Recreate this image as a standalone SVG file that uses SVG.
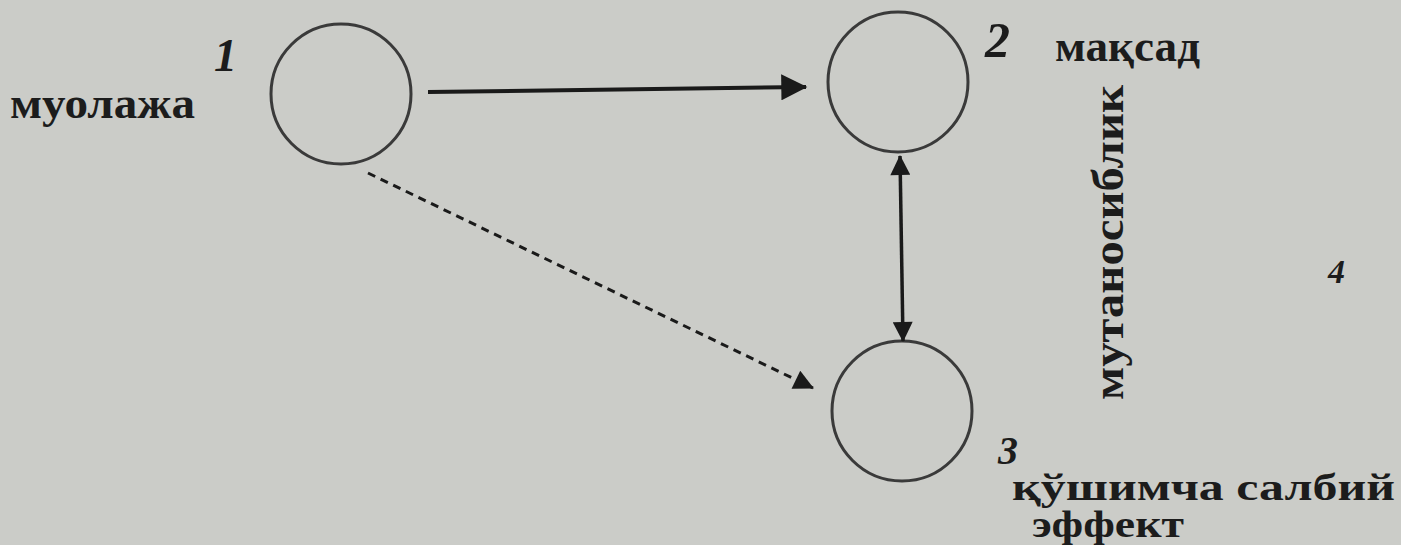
<svg xmlns="http://www.w3.org/2000/svg" width="1401" height="545" viewBox="0 0 1401 545">
<defs>
<marker id="big" viewBox="0 0 10 10" refX="9.5" refY="5" markerWidth="34" markerHeight="26" markerUnits="userSpaceOnUse" orient="auto-start-reverse">
<path d="M0,0 L10,5 L0,10 z" fill="#1a1a1a"/>
</marker>
<marker id="mid" viewBox="0 0 10 10" refX="9.5" refY="5" markerWidth="26" markerHeight="20" markerUnits="userSpaceOnUse" orient="auto-start-reverse">
<path d="M0,0 L10,5 L0,10 z" fill="#1a1a1a"/>
</marker>
</defs>
<style>
.node circle{fill:none;stroke:#3a3a3a;stroke-width:3}
.lbl{font-family:"Liberation Serif",serif;font-weight:bold;font-size:44px;fill:#1c1c1c}
.num{font-family:"Liberation Serif",serif;font-style:italic;font-weight:bold;font-size:48px;fill:#1c1c1c}
.conn line{stroke:#1a1a1a;fill:none}
</style>
<rect width="1401" height="545" fill="#cbccc8"/>
<g id="node1" class="node">
<circle cx="341" cy="94" r="70"/>
<text class="num" x="214" y="71" style="font-size:46px">1</text>
<text class="lbl" x="10" y="118" textLength="185" lengthAdjust="spacingAndGlyphs">муолажа</text>
</g>
<g id="node2" class="node">
<circle cx="898" cy="82" r="70"/>
<text class="num" x="985" y="57" style="font-size:50px">2</text>
<text class="lbl" x="1055" y="61" textLength="145" lengthAdjust="spacingAndGlyphs">мақсад</text>
</g>
<g id="node3" class="node">
<circle cx="902" cy="411" r="70"/>
<text class="num" x="998" y="464" style="font-size:40px">3</text>
<text class="lbl" x="1012" y="500" style="font-size:37px" textLength="383" lengthAdjust="spacingAndGlyphs">қўшимча салбий</text>
<text class="lbl" x="1032" y="537" style="font-size:37px" textLength="152" lengthAdjust="spacingAndGlyphs">эффект</text>
</g>
<g id="node4">
<text class="num" x="1328" y="283" style="font-size:34px">4</text>
</g>
<g id="relation">
<text class="lbl" transform="translate(1123,400) rotate(-90)" textLength="315" lengthAdjust="spacingAndGlyphs">мутаносиблик</text>
</g>
<g id="connectors" class="conn">
<line x1="428" y1="92" x2="806" y2="87" stroke-width="4" marker-end="url(#big)"/>
<line x1="368" y1="173" x2="813" y2="388" stroke-width="3" stroke-dasharray="8,6" marker-end="url(#mid)"/>
<line x1="900" y1="156" x2="903" y2="341" stroke-width="3.5" marker-start="url(#mid)" marker-end="url(#mid)"/>
</g>
</svg>
